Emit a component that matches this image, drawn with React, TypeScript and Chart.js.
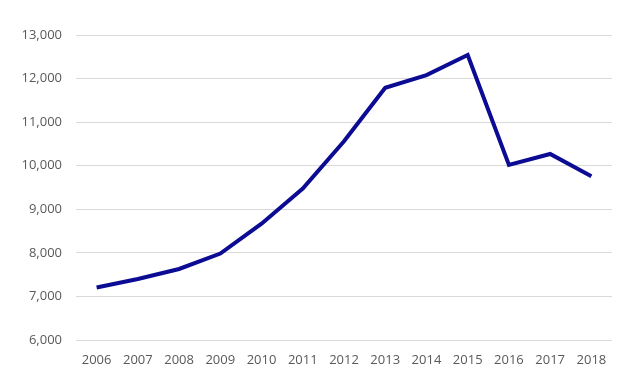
import React, { useEffect, useRef } from "react";
import { Chart, registerables } from "chart.js";

Chart.register(...registerables);

const years = ["2006", "2007", "2008", "2009", "2010", "2011", "2012", "2013", "2014", "2015", "2016", "2017", "2018"];
const values = [7205, 7400, 7630, 7985, 8670, 9475, 10560, 11790, 12080, 12540, 10020, 10270, 9760];
const yMin = 6000;
const yMax = 13000;
const yStep = 1000;

export default function App() {
  const ref = useRef<HTMLCanvasElement | null>(null);
  useEffect(() => {
    if (!ref.current) return;
    const font = { family: "'Open Sans', 'Noto Sans', sans-serif", size: 13 };
    const chart = new Chart(ref.current, {
      type: "line",
      data: {
        labels: years,
        datasets: [
          {
            data: values,
            borderColor: "#0b0b93",
            borderWidth: 4,
            pointRadius: 0,
            fill: false,
            tension: 0,
          },
        ],
      },
      options: {
        animation: false,
        responsive: false,
        maintainAspectRatio: false,
        layout: { padding: { top: 35, right: 23, left: 0, bottom: 0 } },
        plugins: { legend: { display: false }, tooltip: { enabled: false } },
        scales: {
          x: {
            offset: true,
            grid: { display: false, drawTicks: false },
            border: { display: false },
            ticks: { color: "#595959", font, padding: 12, maxRotation: 0, autoSkip: false },
            afterFit: (s: any) => {
              s.height = 44;
            },
          },
          y: {
            min: yMin,
            max: yMax,
            ticks: {
              stepSize: yStep,
              color: "#595959",
              font,
              padding: 14,
              callback: (v: any) => Number(v).toLocaleString("en-US"),
            },
            grid: { color: "#d9d9d9", lineWidth: 1, drawTicks: false },
            border: { display: false },
            afterFit: (s: any) => {
              s.width = 76;
            },
          },
        },
      },
    });
    return () => chart.destroy();
  }, []);
  return (
    <div style={{ position: "fixed", left: 0, top: 0, width: 635, height: 384, background: "#fff" }}>
      <canvas ref={ref} width={635} height={384} style={{ display: "block" }} />
    </div>
  );
}
